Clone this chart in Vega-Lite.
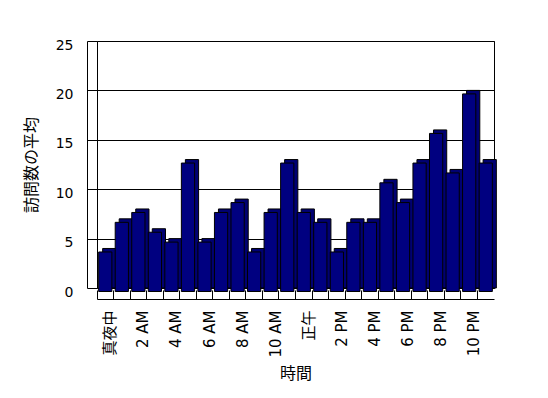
{
  "$schema": "https://vega.github.io/schema/vega-lite/v6.json",
  "width": 397,
  "height": 247,
  "autosize": "none",
  "padding": {"left": 97, "top": 41, "right": 54, "bottom": 110},
  "background": "white",
  "config": {
    "view": {"stroke": "black", "strokeWidth": 1},
    "font": "DejaVu Sans, Noto Sans CJK JP"
  },
  "data": {
    "values": [
      {"時間": "真夜中", "平均": 4},
      {"時間": "1 AM", "平均": 7},
      {"時間": "2 AM", "平均": 8},
      {"時間": "3 AM", "平均": 6},
      {"時間": "4 AM", "平均": 5},
      {"時間": "5 AM", "平均": 13},
      {"時間": "6 AM", "平均": 5},
      {"時間": "7 AM", "平均": 8},
      {"時間": "8 AM", "平均": 9},
      {"時間": "9 AM", "平均": 4},
      {"時間": "10 AM", "平均": 8},
      {"時間": "11 AM", "平均": 13},
      {"時間": "正午", "平均": 8},
      {"時間": "1 PM", "平均": 7},
      {"時間": "2 PM", "平均": 4},
      {"時間": "3 PM", "平均": 7},
      {"時間": "4 PM", "平均": 7},
      {"時間": "5 PM", "平均": 11},
      {"時間": "6 PM", "平均": 9},
      {"時間": "7 PM", "平均": 13},
      {"時間": "8 PM", "平均": 16},
      {"時間": "9 PM", "平均": 12},
      {"時間": "10 PM", "平均": 20},
      {"時間": "11 PM", "平均": 13}
    ]
  },
  "encoding": {
    "x": {
      "field": "時間",
      "type": "nominal",
      "sort": null,
      "scale": {"paddingInner": 0, "paddingOuter": 0},
      "axis": {
        "title": "時間",
        "titleFont": "Noto Sans CJK JP",
        "titleFontSize": 16,
        "titleFontWeight": "normal",
        "titleColor": "black",
        "titlePadding": 8,
        "offset": 11,
        "bandPosition": 0,
        "tickSize": -9,
        "tickColor": "black",
        "domainColor": "black",
        "labelAngle": -90,
        "labelAlign": "right",
        "labelBaseline": "middle",
        "labelOffset": 5,
        "labelPadding": 20,
        "labelFontSize": 15,
        "labelColor": "black",
        "labelFont": "DejaVu Sans, Noto Sans CJK JP",
        "labelExpr": "indexof(['真夜中','2 AM','4 AM','6 AM','8 AM','10 AM','正午','2 PM','4 PM','6 PM','8 PM','10 PM'], datum.value) >= 0 ? datum.label : ''"
      }
    },
    "y": {
      "field": "平均",
      "type": "quantitative",
      "scale": {"domain": [0, 25], "nice": false},
      "axis": {
        "title": "訪問数の平均",
        "titleFont": "Noto Sans CJK JP",
        "titleFontSize": 16,
        "titleFontWeight": "normal",
        "titleColor": "black",
        "titlePadding": 16,
        "values": [0, 5, 10, 15, 20, 25],
        "offset": 10,
        "tickSize": -10,
        "tickColor": "black",
        "domainColor": "black",
        "grid": true,
        "gridColor": "black",
        "gridOpacity": 1,
        "labelFontSize": 14,
        "labelColor": "black",
        "labelPadding": 24,
        "labelOffset": 4,
        "labelFont": "DejaVu Sans"
      }
    }
  },
  "layer": [
    {
      "mark": {
        "type": "bar",
        "color": "#000072",
        "stroke": "black",
        "strokeWidth": 1,
        "width": {"band": 0.8},
        "xOffset": 4,
        "x2Offset": 4
      }
    },
    {
      "mark": {
        "type": "bar",
        "color": "#000080",
        "stroke": "black",
        "strokeWidth": 1,
        "width": {"band": 0.8},
        "yOffset": 3.5,
        "y2Offset": 3.5
      }
    }
  ]
}
